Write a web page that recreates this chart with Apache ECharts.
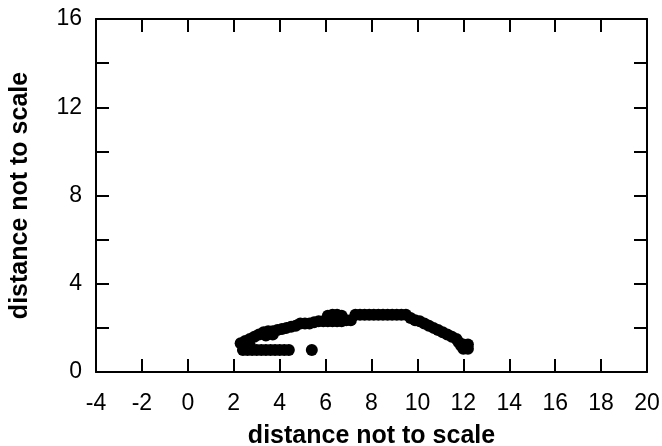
<!DOCTYPE html>
<html>
<head>
<meta charset="utf-8">
<script src="https://cdn.jsdelivr.net/npm/echarts@6/dist/echarts.min.js"></script>
<style>
  html, body { margin: 0; padding: 0; background: #fff; }
  #main { width: 662px; height: 446px; }
</style>
</head>
<body>
<div id="main"></div>
<script>
// lower band of points (y about 1.0 - 1.3) and the lone dot
var lowerX = [2.3, 2.5, 2.7, 2.4, 2.6, 2.8, 3.0, 3.2, 3.4, 3.6, 3.8, 4.0, 4.2, 4.4, 5.4];
var lowerY = [1.3, 1.25, 1.2, 1.0, 1.0, 1.0, 1.0, 1.0, 1.0, 1.0, 1.0, 1.0, 1.0, 1.0, 1.0];

// upper arc of points
var arcX = [2.5, 2.7, 2.9, 3.1, 3.3, 3.5, 3.7, 3.9, 3.4, 3.7, 4.1, 4.3, 4.5, 4.7, 4.9, 5.1, 5.3, 5.5,
            5.7, 5.9, 6.1, 6.3, 6.5, 6.7, 6.9, 7.1, 6.1, 6.3, 6.5, 6.7,
            7.3, 7.5, 7.7, 7.9, 8.1, 8.3, 8.5, 8.7, 8.9, 9.1, 9.3, 9.5,
            9.7, 9.9, 10.1, 10.3, 10.5, 10.7, 10.9, 11.1, 11.3, 11.5, 11.7, 11.8, 11.9, 12.0, 12.2, 12.2, 12.0];
var arcY = [1.4, 1.5, 1.6, 1.7, 1.8, 1.85, 1.85, 1.9, 1.65, 1.7, 1.95, 2.0, 2.05, 2.1, 2.2, 2.2, 2.2, 2.25,
            2.3, 2.3, 2.3, 2.3, 2.3, 2.3, 2.35, 2.35, 2.55, 2.6, 2.6, 2.55,
            2.6, 2.6, 2.6, 2.6, 2.6, 2.6, 2.6, 2.6, 2.6, 2.6, 2.6, 2.6,
            2.45, 2.35, 2.3, 2.2, 2.1, 2.0, 1.9, 1.8, 1.7, 1.6, 1.5, 1.35, 1.2, 1.05, 1.05, 1.25, 1.25];

var xTicks = { min: -4, max: 20, step: 2 };
var yTicks = { min: 0, max: 16, step: 2, labelStep: 4 };
var axisTitle = 'distance not to scale';

var points = [];
lowerX.forEach(function (x, i) { points.push([x, lowerY[i]]); });
arcX.forEach(function (x, i) { points.push([x, arcY[i]]); });

var font = 'Liberation Sans, Arial, sans-serif';
var lineStyle = { color: '#000', width: 2 };
var tick = { inside: true, length: 13, lineStyle: lineStyle };
var frameLine = { onZero: false, lineStyle: lineStyle };

var chart = echarts.init(document.getElementById('main'));
chart.setOption({
  animation: false,
  grid: { left: 96, right: 15, top: 19, bottom: 74, containLabel: false, outerBoundsMode: 'none' },
  xAxis: [
    {
      type: 'value', min: xTicks.min, max: xTicks.max, interval: xTicks.step,
      name: axisTitle, nameLocation: 'middle', nameGap: 52,
      nameTextStyle: { fontFamily: font, fontWeight: 'bold', fontSize: 25, color: '#000' },
      axisLine: frameLine,
      axisTick: tick,
      axisLabel: { fontFamily: font, fontSize: 23, color: '#000', margin: 20 },
      splitLine: { show: false }
    },
    {
      type: 'value', position: 'top', min: xTicks.min, max: xTicks.max, interval: xTicks.step,
      axisLine: frameLine,
      axisTick: tick,
      axisLabel: { show: false },
      splitLine: { show: false }
    }
  ],
  yAxis: [
    {
      type: 'value', min: yTicks.min, max: yTicks.max, interval: yTicks.step,
      name: axisTitle, nameLocation: 'middle', nameGap: 63, nameRotate: 90,
      nameTextStyle: { fontFamily: font, fontWeight: 'bold', fontSize: 25, color: '#000' },
      axisLine: frameLine,
      axisTick: tick,
      axisLabel: {
        fontFamily: font, fontSize: 23, color: '#000', margin: 14,
        formatter: function (v) { return v % yTicks.labelStep === 0 ? String(v) : ''; }
      },
      splitLine: { show: false }
    },
    {
      type: 'value', position: 'right', min: yTicks.min, max: yTicks.max, interval: yTicks.step,
      axisLine: frameLine,
      axisTick: tick,
      axisLabel: { show: false },
      splitLine: { show: false }
    }
  ],
  series: [
    {
      type: 'scatter',
      data: points,
      symbol: 'circle',
      symbolSize: 12,
      itemStyle: { color: '#000', opacity: 1 }
    }
  ]
});
</script>
</body>
</html>
